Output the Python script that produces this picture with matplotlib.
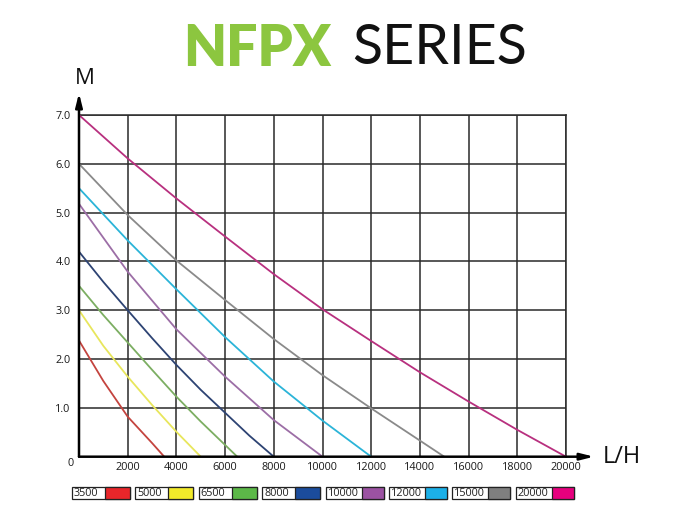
import matplotlib
matplotlib.use("Agg")
import matplotlib.pyplot as plt
from matplotlib.patches import Rectangle

# ---- data ----
series_names = ["3500", "5000", "6500", "8000", "10000", "12000", "15000", "20000"]
flow_3500 = [0, 1000, 2000, 3000, 3500]
head_3500 = [2.38, 1.55, 0.82, 0.28, 0.0]
flow_5000 = [0, 1000, 2000, 3000, 4000, 5000]
head_5000 = [3.0, 2.27, 1.64, 1.06, 0.51, 0.0]
flow_6500 = [0, 1000, 2000, 3000, 4000, 5000, 6000, 6500]
head_6500 = [3.5, 2.9, 2.34, 1.78, 1.23, 0.72, 0.24, 0.0]
flow_8000 = [0, 1000, 2000, 3000, 4000, 5000, 6000, 7000, 8000]
head_8000 = [4.2, 3.58, 3.0, 2.43, 1.88, 1.37, 0.9, 0.43, 0.0]
flow_10000 = [0, 2000, 4000, 6000, 8000, 10000]
head_10000 = [5.18, 3.79, 2.61, 1.64, 0.75, 0.0]
flow_12000 = [0, 2000, 4000, 6000, 8000, 10000, 12000]
head_12000 = [5.5, 4.43, 3.43, 2.45, 1.54, 0.74, 0.0]
flow_15000 = [0, 2000, 4000, 6000, 8000, 10000, 12000, 14000, 15000]
head_15000 = [6.0, 4.95, 4.02, 3.21, 2.41, 1.67, 0.99, 0.33, 0.0]
flow_20000 = [0, 2000, 4000, 6000, 8000, 10000, 12000, 14000, 16000, 18000, 20000]
head_20000 = [7.0, 6.11, 5.29, 4.51, 3.74, 3.02, 2.37, 1.73, 1.13, 0.55, 0.0]

flows = [flow_3500, flow_5000, flow_6500, flow_8000, flow_10000, flow_12000, flow_15000, flow_20000]
heads = [head_3500, head_5000, head_6500, head_8000, head_10000, head_12000, head_15000, head_20000]

x_ticks = [2000, 4000, 6000, 8000, 10000, 12000, 14000, 16000, 18000, 20000]
x_tick_labels = ["2000", "4000", "6000", "8000", "10000", "12000", "14000", "16000", "18000", "20000"]
y_ticks = [1.0, 2.0, 3.0, 4.0, 5.0, 6.0, 7.0]
y_tick_labels = ["1.0", "2.0", "3.0", "4.0", "5.0", "6.0", "7.0"]

# ---- styles ----
line_colors = ["#c4443f", "#e8e65c", "#7cae62", "#2d4373", "#9c6ea6", "#2bb4d8", "#8a8a8a", "#b8307f"]
legend_colors = ["#e8262a", "#f2ea2a", "#5cb848", "#1b4c9c", "#9b52a2", "#1cb0e8", "#7f7f7f", "#e6007e"]

plt.rcParams['font.family'] = ['Open Sans', 'DejaVu Sans']

fig = plt.figure(figsize=(7, 5.25), dpi=100)
W, H = 700, 525
x0_px, x1_px = 79, 566
y0_px, y1_px = 456.7, 115
ax = fig.add_axes([x0_px / W, 1 - y0_px / H, (x1_px - x0_px) / W, (y0_px - y1_px) / H])

ax.set_xlim(0, 20000)
ax.set_ylim(0, 7)
ax.set_xticks(x_ticks)
ax.set_xticklabels(x_tick_labels)
ax.set_yticks(y_ticks)
ax.set_yticklabels(y_tick_labels)
ax.tick_params(length=0, labelsize=7.8, colors="#1a1a1a")
ax.tick_params(axis='x', pad=4)
ax.tick_params(axis='y', pad=6)

ax.grid(True, color="#2a2a2a", linewidth=1.1)
ax.set_axisbelow(True)
for s in ["top", "right"]:
    ax.spines[s].set_color("#2a2a2a")
    ax.spines[s].set_linewidth(1.1)
for s in ["left", "bottom"]:
    ax.spines[s].set_visible(False)

for fx, hy, c in zip(flows, heads, line_colors):
    ax.plot(fx, hy, color=c, linewidth=1.3, solid_capstyle="butt", zorder=3)

# axes with arrows
ax.annotate("", xy=(21150, 0), xytext=(0, 0), xycoords="data",
            arrowprops=dict(arrowstyle="-|>,head_length=0.8,head_width=0.2", color="black", lw=1.8,
                            shrinkA=0, shrinkB=0), annotation_clip=False, zorder=5)
ax.annotate("", xy=(0, 7.45), xytext=(0, 0), xycoords="data",
            arrowprops=dict(arrowstyle="-|>,head_length=0.8,head_width=0.2", color="black", lw=1.8,
                            shrinkA=0, shrinkB=0), annotation_clip=False, zorder=5)

fig.text(70.5 / W, 1 - 464 / H, "0", fontsize=7.8, ha="center", va="center", color="#1a1a1a")
fig.text(85 / W, 1 - 78 / H, "M", fontsize=16, ha="center", va="center", color="#111111")
fig.text(603 / W, 1 - 457 / H, "L/H", fontsize=17, ha="left", va="center", color="#111111")

# title
fig.text(183 / W, 1 - 49 / H, "NFPX", fontsize=40, fontweight="heavy", family=["Lato", "DejaVu Sans"],
         color="#8cc63f", ha="left", va="center")
fig.text(352 / W, 1 - 49 / H, "SERIES", fontsize=40, family=["Lato", "DejaVu Sans"],
         color="#111111", ha="left", va="center")

# legend boxes
box_w, box_h, pitch = 58, 12, 63.4
for i, (name, c) in enumerate(zip(series_names, legend_colors)):
    bx = 72 + i * pitch
    by = 487
    col_w = 25 if len(name) == 4 else 22
    fig.patches.append(Rectangle((bx / W, 1 - (by + box_h) / H), box_w / W, box_h / H,
                                 transform=fig.transFigure, facecolor="white", edgecolor="#222222",
                                 linewidth=0.9))
    fig.patches.append(Rectangle(((bx + box_w - col_w) / W, 1 - (by + box_h) / H), col_w / W, box_h / H,
                                 transform=fig.transFigure, facecolor=c, edgecolor="#222222",
                                 linewidth=0.9))
    fig.text((bx + 2) / W, 1 - (by + box_h / 2) / H, name, fontsize=7.8, ha="left", va="center",
             color="#222222")

fig.savefig("out.png", dpi=100, facecolor="white")
